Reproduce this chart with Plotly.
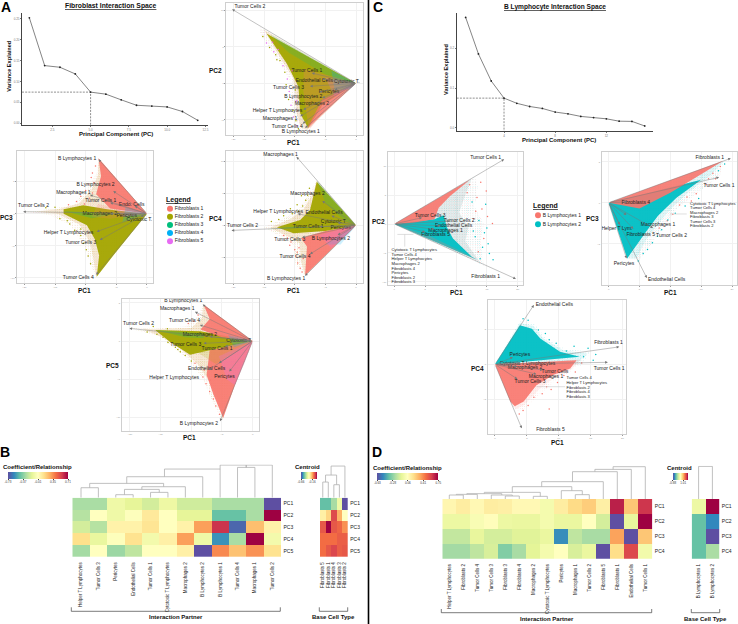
import plotly.graph_objects as go

FONT = "Liberation Sans"
FIB = {"F1": "#F8766D", "F2": "#A3A500", "F3": "#00BF7D", "F4": "#00B0F6", "F5": "#E76BF3"}
BL = {"B1": "#F8766D", "B2": "#00BFC4"}

# ---------- scree data ----------
A_PC = [1, 2, 3, 4, 5, 6, 7, 8, 9, 10, 11, 12]
A_VAR = [0.2524, 0.138, 0.134, 0.118, 0.0745, 0.0696, 0.056, 0.043, 0.041, 0.039, 0.028, 0.007]
C_PC = [1, 2, 3, 4, 5, 6, 7, 8, 9, 10, 11, 12, 13, 14, 15]
C_VAR = [0.278, 0.186, 0.118, 0.075, 0.062, 0.054, 0.049, 0.040, 0.0355, 0.029, 0.026, 0.023, 0.017, 0.0165, 0.005]

# ---------- biplot loadings (arrow tips) and label spots ----------
A2_NAMES = ["Tumor Cells 2", "Tumor Cells 1", "Endothelial Cells", "Cytotoxic T.", "Tumor Cells 3", "Pericytes",
            "B Lymphocytes 2", "Macrophages 2", "Helper T Lymphocytes", "Macrophages 1", "Tumor Cells 4", "B Lymphocytes 1"]
A2_TIP_X = [-20.2, -7.2, -5.5, -1, -7.5, -3.5, -6, -5.5, -8.6, -9.1, -8.7, -8.3]
A2_TIP_Y = [10.1, 1.4, 0.6, 0.1, -0.4, -0.9, -1.2, -2, -3.6, -4.5, -5.5, -6.1]
A2_LAB_X = [-17.3, -8.0, -6.8, -1.5, -11.0, -4.4, -8.6, -7.2, -12.8, -12.4, -11.2, -9]
A2_LAB_Y = [10.45, 1.7, 0.3, 0.2, -0.6, -1.2, -1.8, -2.8, -3.8, -4.9, -5.9, -6.6]

A3_NAMES = ["B Lymphocytes 1", "B Lymphocytes 2", "Macrophages 1", "Tumor Cells 1", "Endo. Cells", "Tumor Cells 2",
            "Macrophages 2", "Pericytes", "Cytotoxic T.", "Helper T Lymphocytes", "Tumor Cells 3", "Tumor Cells 4"]
A3_TIP_X = [-7.9, -5.5, -9.3, -6, -2, -20.2, -6, -2.5, -1, -8.2, -7.7, -8.3]
A3_TIP_Y = [8.45, 3.5, 2.9, 1.7, 1.2, 0.3, 0, -0.3, -0.5, -2.8, -4.1, -9.5]
A3_LAB_X = [-11.4, -8.4, -12, -7.55, -2.5, -18.5, -7.7, -3.3, -1.25, -12.8, -10.8, -11.2]
A3_LAB_Y = [8.6, 4.45, 3.3, 2.0, 1.35, 1.2, 0.05, -0.35, -1, -3.0, -4.45, -9.95]

A4_NAMES = ["Macrophages 1", "Macrophages 2", "Helper T Lymphocytes", "Endothelial Cells", "Cytotoxic T", "Tumor Cells 2",
            "Tumor Cells 1", "Pericytes", "Tumor Cells 3", "B Lymphocytes 2", "Tumor Cells 4", "B Lymphocytes 1"]
A4_TIP_X = [-9.7, -5.5, -9.5, -4, -3, -20.3, -6, -2, -8.8, -3, -7.5, -8.3]
A4_TIP_Y = [10.7, 3.8, 1.8, 1.5, 0.4, -0.8, -0.2, -0.3, -1.9, -1.5, -4.5, -7.9]
A4_LAB_X = [-12.3, -7.9, -12.7, -5.2, -3.7, -18.5, -7.8, -2.5, -10.8, -4.1, -9.95, -11.4]
A4_LAB_Y = [11.0, 4.85, 2.1, 1.9, 0.6, -0.1, -0.3, -0.35, -2.25, -2.1, -4.95, -8.3]

A5_NAMES = ["B Lymphocytes 1", "Macrophages 1", "Tumor Cells 4", "Tumor Cells 2", "Macrophages 2", "Cytotoxic T.",
            "Tumor Cells 3", "Tumor Cells 1", "Endothelial Cells", "Helper T Lymphocytes", "Pericytes", "B Lymphocytes 2"]
A5_TIP_X = [-8.15, -9.4, -8.6, -20.1, -7, -1.5, -8, -4.5, -5.5, -7.2, -3.8, -5.3]
A5_TIP_Y = [4.8, 3.84, 2.1, 1.66, 0.6, 0.1, -0.3, -0.7, -2.9, -3.8, -4.0, -10.5]
A5_LAB_X = [-11.3, -12.3, -11.1, -18.6, -8.6, -2.2, -10.9, -5.8, -7.5, -12.8, -4.6, -8.75]
A5_LAB_Y = [5.24, 4.2, 2.6, 2.3, 0.87, 0.1, -0.44, -0.96, -3.67, -4.76, -4.7, -10.87]

C2_NAMES = ["Tumor Cells 1", "Tumor Cells 3", "Tumor Cells 2", "Endothelial Cells", "Macrophages 1", "Fibroblasts 5", "Fibroblasts 1"]
C2_TIP_X = [17.8, 4.5, 9, 7.5, 6.5, 5, 19.7]
C2_TIP_Y = [11.2, 1.1, 0.5, -0.3, -0.9, -1.4, -9.5]
C2_LAB_X = [14.8, 5.8, 10.5, 9.6, 8.3, 6.7, 14.8]
C2_LAB_Y = [11.5, 1.4, 0.63, -0.35, -1.15, -1.84, -9.2]
C2_LIST = ["Cytotoxic T Lymphocytes", "Tumor Cells 4", "Helper T Lymphocytes", "Macrophages 2", "Fibroblasts 4", "Pericytes", "Fibroblasts 2", "Fibroblasts 3"]
C2_LIST_X = [-0.45] * 8
C2_LIST_Y = [-4.55, -5.3, -6.1, -6.9, -7.7, -8.45, -9.3, -10.0]

C3_NAMES = ["Fibroblasts 1", "Tumor Cells 1", "Fibroblasts 4", "Macrophages 1", "Tumor Cells 2", "Fibroblasts 5", "Helper T Lym.", "Pericytes", "Endothelial Cells"]
C3_TIP_X = [19.8, 17.9, 3, 2.9, 7.2, 4, 1.8, 2.9, 6.2]
C3_TIP_Y = [5.4, 3.09, 0.1, -1.5, -3.1, -3.2, -2.7, -6.8, -9.2]
C3_LAB_X = [16.4, 17.9, 4.4, 8, 10.2, 5.2, 1.35, 2.5, 9.4]
C3_LAB_Y = [5.5, 2.07, 0, -2.7, -4, -3.9, -3.2, -7.4, -9.35]
C3_LIST = ["Cytotoxic T Lymphocytes", "Tumor Cells 4", "Macrophages 2", "Fibroblasts 3", "Tumor Cells 3", "Fibroblasts 2"]
C3_LIST_X = [13.2] * 6
C3_LIST_Y = [-0.12, -0.65, -1.22, -1.79, -2.36, -2.9]

C4_NAMES = ["Endothelial Cells", "Fibroblasts 1", "Tumor Cells 1", "Pericytes", "Cytotoxic T Lymphocytes", "Macrophages 2", "Tumor Cells", "Macrophages 1", "Tumor Cells 3", "Fibroblasts 5"]
C4_TIP_X = [6.1, 19.5, 17.7, 2.8, 4, 3.5, 7.5, 6.5, 3.5, 4.2]
C4_TIP_Y = [8.5, 2.5, 0.29, 1, 0.1, -0.3, -0.8, -1.4, -2.1, -9.15]
C4_LAB_X = [9.3, 17.8, 17.9, 3.9, 5.1, 4.7, 9.4, 8, 5.5, 8.7]
C4_LAB_Y = [8.5, 3.1, -0.67, 1.3, 0.14, -0.43, -1, -1.76, -2.5, -9.3]
C4_LIST = ["Tumor Cells 4", "Helper T Lymphocytes", "Fibroblasts 2", "Fibroblasts 4", "Fibroblasts 3"]
C4_LIST_X = [11.2] * 5
C4_LIST_Y = [-2.0, -2.7, -3.4, -4.0, -4.7]

# ---------- point-cloud outlines ----------
A2_FR_X = [0, -15.7, -15.65, -12.4, -10.8, -10.65, -9.95, -8.9]
A2_FR_Y = [0, 7.7, 6.8, 2.7, 0.45, -2.3, -4.5, -6.6]
A2_MID_X = [0, -15, -12.3, -10.3, -9.9, -9.7, -9, -8]
A2_MID_Y = [0, 7.3, 3.4, 0.8, -1.5, -4, -6, -6.4]
A2_F2_X = [0, -14.6, -11.3, -9.4, -9.1, -7.8, -5.5, 0]
A2_F2_Y = [0, 6.8, 2.7, -0.45, -4.1, -6.1, -3, 0]
A2_F3_X = [0, -14, -11, -5, 0]
A2_F3_Y = [0, 6.7, 4.2, 1.2, 0]
A2_F1_X = [0, -8.5, -8.6, -7.8, -7.5, -5, -1, 0]
A2_F1_Y = [0, 2, -1, -5.7, -6.2, -3.6, -0.5, 0]
A2_F1B_X = [0, -8, -5.5, 0]
A2_F1B_Y = [0, -6.2, -2.2, 0]
A2_F4_X = [0, -4, -3.5, -1, 0]
A2_F4_Y = [0, 1.7, -0.9, -0.8, 0]
A2_F5_X = [0, -5, -3.5, 0]
A2_F5_Y = [0, 0.8, -1.8, 0]
A2_SP1_X = [-15.2, -14.1, -13.1, -12.4, -11.6, -11.4, -11, -10.3, -9.8, -9.4, -9.9, -12.9]
A2_SP1_Y = [6.4, 4.9, 3.9, 3.1, 1.5, -0.2, -2.2, -3.7, -5.1, -6.2, -0.9, 3.2]
A2_SP2_X = [-14.6, -13.6, -12.7, -11.9, -11.2, -10.9, -10.6, -10.2, -9.6, -10.4, -9.7, -13.4]
A2_SP2_Y = [5.5, 5.6, 4.6, 2.4, 0.6, -1.1, -3, -4.6, -5.8, 1.7, -2.4, 4.3]

A3_FR_X = [0, -7.9, -8.2, -9.8, -12, -15.8, -19.9, -15.8, -12.55, -10.1, -9.3, -8.3]
A3_FR_Y = [0, 8.6, 6.3, 3.7, 1.35, 0.67, 0.3, -0.2, -1.76, -5.1, -7.7, -9.8]
A3_MID_X = [0, -7.9, -8, -9, -11, -14.5, -18, -14.5, -11, -9.3, -8.7, -8.3]
A3_MID_Y = [0, 8.6, 6, 3.8, 1.6, 0.7, 0.35, -0.05, -1.7, -4.5, -7.2, -9.8]
A3_F1_X = [0, -7.9, -7.5, -8.3, -6, 0]
A3_F1_Y = [0, 8.6, 5.8, 3, 0.8, 0]
A3_F2_X = [0, -6, -10.4, -13.6, -13.6, -9.8, -8.5, -7.8, -8.2, -5.5, 0]
A3_F2_Y = [0, 0.6, 1.3, 0.7, 0, -1.8, -4, -6.5, -9.8, -6.5, 0]
A3_F3_X = [-5, -13.6, -9, -5]
A3_F3_Y = [0, 0.4, -0.7, 0]
A3_F1B_X = [0, -8, -9, -6, 0]
A3_F1B_Y = [0, 1.5, -0.5, -0.8, 0]
A3_F4_X = [0, -3.5, -4, 0]
A3_F4_Y = [0, 1.0, -1.3, 0]
A3_F5_X = [0, -5, -4, 0]
A3_F5_Y = [0, 0.6, -0.5, 0]
A3_SP1_X = [-8.4, -9.1, -10, -10.8, -9.6, -11.5, -12.8, -8.9, -9.4, -8.6, -8.9, -10.2]
A3_SP1_Y = [7.4, 5.6, 3.6, 2.7, 4.6, 1.9, 1.4, 6.3, 2.4, 4.8, 3.2, 1.5]
A3_SP2_X = [-15, -16.5, -14.2, -12.6, -11.8, -10.8, -10.4, -9.9, -9.6, -9.2, -10.8, -13]
A3_SP2_Y = [1, 0.9, -0.8, -1.6, -2.6, -3.4, -4.6, -5.6, -6.6, -7.8, -2.4, -1.1]

A4_FR_X = [0, -6.4, -7.3, -9.2, -11.5, -15, -11.5, -10, -9.9, -8.3]
A4_FR_Y = [0, 7.1, 5.5, 2.7, 1.2, -0.3, -2.2, -3.4, -6, -7.9]
A4_MID_X = [0, -6.4, -7, -8.5, -10.5, -14, -11, -9.2, -9, -8.3]
A4_MID_Y = [0, 7, 5, 2.6, 1.1, -0.4, -1.8, -2.8, -5.5, -7.9]
A4_F2_X = [0, -6.4, -7.5, -9.1, -12.9, -10.2, -5, 0]
A4_F2_Y = [0, 6.8, 2.4, 0.83, -0.3, -1.25, -0.9, 0]
A4_F3_X = [0, -6.4, -5, -2, 0]
A4_F3_Y = [0, 7, 3.5, 0.8, 0]
A4_F3B_X = [-6, -14.6, -10, -6]
A4_F3B_Y = [-0.3, -0.6, -0.2, -0.3]
A4_F1_X = [0, -5, -9, -8, -8.3, 0]
A4_F1_Y = [0, -0.9, -2, -3.3, -7.8, 0]
A4_F4_X = [0, -5, -2.5, 0]
A4_F4_Y = [0, -3, -3, 0]
A4_F5_X = [0, -6, -4, 0]
A4_F5_Y = [0, -1.5, -3.6, 0]
A4_SP1_X = [-7.6, -8.2, -9.6, -10.4, -11.8, -12.6, -8.9, -7.9, -9.4, -10.7, -8.7, -13.8]
A4_SP1_Y = [5.8, 3.9, 3.2, 1.8, 1.5, 0.9, 4.6, 4.7, 2.2, 2.6, 3, 0.6]
A4_SP2_X = [-11.8, -10.6, -10, -9.8, -9.5, -9.1, -8.8, -10.8, -9.3, -11.2, -8.6, -9.6]
A4_SP2_Y = [-1.6, -2.6, -3.8, -4.8, -5.9, -6.7, -7.3, -3.1, -3.5, -2, -5.2, -4.2]

A5_FR_X = [0, -8, -9, -11, -15.9, -20, -15, -13.5, -10.5, -8.2, -6.8, -5, -2.9, -1.25]
A5_FR_Y = [0, 4.8, 3.2, 1.9, 1.6, 1.66, 0.6, -0.5, -2.4, -4.8, -7.5, -10.4, -5.8, -2.7]
A5_MID_X = [0, -8, -8.3, -10, -15.9, -18, -14.5, -11.5, -9, -7.3, -5.7, -4.9, -2.9, -1.25]
A5_MID_Y = [0, 4.8, 3, 1.7, 1.55, 1.6, 0.4, -1.2, -3, -5, -7.5, -10.2, -5.8, -2.7]
A5_F1_X = [0, -8, -7, -8.5, -5, 0]
A5_F1_Y = [0, 4.8, 2.9, 1.5, 0.5, 0]
A5_F2_X = [0, -8.5, -15.9, -13.5, -10.2, -7, 0]
A5_F2_Y = [0, 1.3, 1.44, -0.1, -1.8, -1.2, 0]
A5_F3_X = [-8, -15.9, -11, -8]
A5_F3_Y = [1, 1.44, 0.5, 0.4]
A5_F1B_X = [0, -7, -7.5, -6.4, -4.8, -2.9, 0]
A5_F1B_Y = [0, -1.2, -4.45, -7, -10.1, -5.8, 0]
A5_F5_X = [0, -5.5, -4.2, -2.9, -1.25, 0]
A5_F5_Y = [0, -2, -5, -5.8, -2.7, 0]
A5_F2B_X = [0, -9, -6, -3, 0]
A5_F2B_Y = [0, -1.5, -3, -1.5, 0]
A5_F4_X = [0, -4, -3, 0]
A5_F4_Y = [0, 0.8, -0.8, 0]
A5_SP1_X = [-8.9, -9.6, -10.5, -8.1, -7.6, -7, -6.4, -6, -5.4, -9.4, -7.9, -6.9]
A5_SP1_Y = [3.4, 2.6, 2.3, -4.7, -5.6, -6.6, -7.6, -8.5, -9.6, -2.9, -3.8, -5.1]
A5_SP2_X = [-17.2, -15.6, -14.6, -13.8, -12.6, -11.8, -11, -10, -13.9, -16.2, -11.4, -12.2]
A5_SP2_Y = [1.2, 0.9, 0.5, -0.2, -0.8, -1.4, -1.9, -2.6, 1.6, 1.9, -0.6, -1.1]

C2_FR_X = [0, 13, 13.5, 13, 14.5, 14, 14.5]
C2_FR_Y = [0, 8.2, 6.5, 3, 0, -3, -7.2]
C2_MID_X = [0, 12.5, 11.5, 10.5, 12, 11.5, 13.8]
C2_MID_Y = [0, 7.8, 5, 2, -0.5, -3, -6.5]
C2_B1_X = [0, 12.3, 9, 7.2, 6.5, 3, 0]
C2_B1_Y = [0, 7.7, 4.8, 2.8, 0.8, 0.2, 0]
C2_B2_X = [0, 6.5, 8, 8.5, 9.5, 12.5, 13.4, 0]
C2_B2_Y = [0, 0.8, 1.5, -0.5, -2.5, -5.6, -6.2, 0]
C2_B1B_X = [0, 13.4, 11.5, 6, 0]
C2_B1B_Y = [0, -6.2, -5.1, -2.2, 0]
C2_SP1_X = [11.8, 13.4, 14.2, 15.9, 12.9, 14.5, 12.2, 13.2, 14.9, 13.6, 15.1, 14]
C2_SP1_Y = [5.4, 4.6, 2.6, 0.1, 0.9, -2.5, 6.8, 2.2, 5.7, -4.8, 1.3, 7.2]
C2_SP2_X = [12.6, 13.7, 14.6, 15.2, 13.1, 14.3, 15.4, 16, 13.9, 12.8, 15, 14.8]
C2_SP2_Y = [3.8, 0.6, -1.5, -3.4, -2.2, -4, -5.1, -6.2, -6, -1.2, -0.7, 3.4]

C3_FR_X = [0, 18.6, 18, 14, 11, 9, 7, 5, 3]
C3_FR_Y = [0, 5, 3.2, 1, -0.8, -2.8, -5, -7, -6.8]
C3_MID_X = [0, 18.6, 16.5, 13, 10, 8, 6, 4.5, 3]
C3_MID_Y = [0, 5, 3.3, 1.3, -0.8, -2.6, -4.6, -6.8, -6.8]
C3_B1_X = [0, 18.6, 14, 10, 5, 0]
C3_B1_Y = [0, 5.1, 3.0, 1.2, -0.7, 0]
C3_B2_X = [0, 15, 11, 8, 6, 4, 3, 0]
C3_B2_Y = [0, 2.8, 0.6, -1.6, -3.6, -5.8, -6.8, 0]
C3_SP1_X = [16.9, 18.1, 15.8, 12.7, 11.5, 10.4, 14.2, 17.3, 9.5, 8.2, 13.4, 16.2]
C3_SP1_Y = [3.6, 4.4, 2.2, 0.7, -0.3, -1.4, 1.1, 2.9, -2.2, -3.1, 0.2, 2.9]
C3_SP2_X = [14.6, 12.4, 10.8, 9.6, 8.6, 7.9, 7.1, 6.3, 5.6, 4.8, 17.8, 18.8]
C3_SP2_Y = [0.5, -0.4, -1.3, -2.1, -3.3, -4.1, -4.9, -5.7, -6.2, -7.1, 3.9, 4.7]

C4_FR2_X = [0, 3.9, 6.1, 8, 11, 15, 13.5]
C4_FR2_Y = [0, 6.2, 5.9, 3.7, 2.2, 1.8, -0.2]
C4_FR1_X = [0, 14, 12, 9.5, 7.5, 4.8, 3.5, 2.7]
C4_FR1_Y = [0, 0.8, -1, -2.3, -4, -6.2, -6.8, -6]
C4_MID2_X = [0, 3.9, 6, 7.6, 10.7, 14.5, 13]
C4_MID2_Y = [0, 5.9, 5.5, 3.7, 2, 1.5, 0.3]
C4_MID1_X = [0, 13.5, 11.9, 9.3, 7, 4.6, 3.3, 2.6]
C4_MID1_Y = [0, 0.7, -0.8, -1.9, -3.5, -5.8, -6.4, -5.7]
C4_B2_X = [0, 3.9, 5.8, 7.1, 10.2, 13.3, 0]
C4_B2_Y = [0, 5.6, 5.1, 3.7, 1.8, 1.1, 0]
C4_B1_X = [0, 12.8, 11.8, 9.2, 6.5, 4.5, 3.1, 2.4, 0]
C4_B1_Y = [0, 0.6, -0.6, -1.5, -3, -5.3, -6, -5.3, 0]
C4_SP1_X = [13.6, 12.6, 10.8, 9.8, 8.1, 7.4, 6.1, 5.2, 4.4, 3.8, 8.8, 8.5]
C4_SP1_Y = [0.2, -1.1, -1.6, -2.6, -3.2, -4.2, -4.7, -5.9, -6.6, -7.1, -3.6, -6.4]
C4_SP2_X = [14.6, 15.8, 12.4, 11.2, 9.6, 8.5, 7.9, 6.8, 5.2, 4.4, 13.9, 15.4]
C4_SP2_Y = [2.3, 1.4, 2.6, 1.9, 3, 3.5, 4.4, 4.9, 6.3, 6.5, 1.1, 0.6]

# ---------- heatmaps ----------
PC5_ROWS = ["PC1", "PC2", "PC3", "PC4", "PC5"]
PC4_ROWS = ["PC1", "PC2", "PC3", "PC4"]
B_COLS = ["Helper T Lymphocytes", "Tumor Cells 3", "Pericytes", "Endothelial Cells", "Tumor Cells 1", "Cytotoxic T Lymphocytes",
          "Macrophages 2", "B Lymphocytes 2", "B Lymphocytes 1", "Tumor Cells 4", "Macrophages 1", "Tumor Cells 2"]
B_Z = [[-.30, -.30, -.10, -.15, -.20, -.11, -.21, -.21, -.30, -.30, -.30, -.73],
       [-.27, -.01, -.10, -.02, .09, -.01, -.15, -.15, -.44, -.44, -.30, .71],
       [-.20, -.27, .05, .05, .11, -.01, .05, .31, .59, -.67, .23, .05],
       [.13, -.13, -.02, .12, -.08, .06, .31, -.10, -.56, -.30, .71, -.08],
       [-.31, -.01, -.33, -.25, -.01, -.01, .06, -.73, .36, .22, .34, .12]]
B_TICKS = [-0.73, -0.37, -0.01, 0.35, 0.71]
BC_COLS = ["Fibroblasts 5", "Fibroblasts 1", "Fibroblasts 4", "Fibroblasts 3", "Fibroblasts 2"]
BC_Z = [[-.52, -.52, -.45, -.35, -.66],
        [-.27, -.22, -.04, -.17, -.305],
        [-.06, .05, -.06, -.08, -.13],
        [-.09, -.09, -.09, -.07, -.07],
        [-.09, -.06, -.035, -.07, -.06]]
BC_TICKS = [-0.66, -0.16]

D_COLS = ["Helper T Lymphocytes", "Fibroblasts 2", "Tumor Cells 4", "Tumor Cells 3", "Fibroblasts 3", "Fibroblasts 4", "Macrophages 2",
          "Cytotoxic T Lymphocytes", "Pericytes", "Macrophages 1", "Tumor Cells 2", "Fibroblasts 5", "Fibroblasts 1", "Endothelial Cells", "Tumor Cells 1"]
D_Z = [[.10, .14, .09, .14, .13, .09, .09, .00, .14, .21, .25, .13, .68, .27, .63],
       [-.04, -.04, .02, .07, -.04, -.05, -.05, .00, -.05, -.05, .06, -.12, -.63, -.06, .75],
       [-.16, -.16, -.06, -.12, -.12, -.09, -.09, -.05, -.48, -.17, -.22, -.22, .36, -.63, .27],
       [-.23, -.23, -.17, -.11, -.30, -.22, -.08, .00, .06, -.11, -.05, -.63, .20, .58, -.01]]
D_TICKS = [-0.63, -0.28, 0.06, 0.41, 0.75]
DC_COLS = ["B Lymphocytes 1", "B Lymphocytes 2"]
DC_Z = [[.28, 1.82], [-.34, -.61], [-.34, -.88], [-.34, -.07]]
DC_TICKS = [-0.88, 1.01]

# dendrogram merges: left leaf, right leaf, merge height, left foot, right foot
B_DEND = [(0, 1, 30, 0, 0), (2, 3, 9, 0, 0), (4, 5, 16, 0, 0), (2.5, 4.5, 25, 9, 16), (3.5, 6, 33, 25, 0),
          (.5, 4.75, 43, 30, 33), (2.63, 7, 63, 43, 0), (4.8, 8, 86, 63, 0), (9, 10, 91, 0, 0), (8, 11, 98, 86, 0), (9.5, 9.5, 98, 91, 91)]
BC_DEND = [(0, 1, 47, 0, 0), (2, 3, 39, 0, 0), (.5, 2.5, 68, 47, 39), (1.5, 4, 95, 68, 0)]
D_DEND = [(0, 1, 12, 0, 0), (.5, 2, 14, 12, 0), (4, 5, 9, 0, 0), (3, 4.5, 12, 0, 9), (1.25, 3.75, 16, 14, 12), (6, 7, 8, 0, 0),
          (2.5, 6.5, 20, 16, 8), (9, 10, 13, 0, 0), (8, 9.5, 25, 0, 13), (4.5, 8.75, 37, 20, 25), (6.6, 11, 52, 37, 0),
          (8.8, 12, 82, 52, 0), (10.4, 13, 89, 82, 0), (11.7, 14, 97, 89, 0)]
DC_DEND = [(0, 1, 98, 0, 0)]

SPECTRAL_R = [[0, "#5e4fa2"], [.1, "#3288bd"], [.2, "#66c2a5"], [.3, "#abdda4"], [.4, "#e6f598"], [.5, "#ffffbf"],
              [.6, "#fee08b"], [.7, "#fdae61"], [.8, "#f46d43"], [.9, "#d53e4f"], [1, "#9e0142"]]

W, H = 738, 624
fig = go.Figure()
layout = {}
n_axes = [0]
annos = []
shapes = []


def rgba(h, a):
    return f"rgba({int(h[1:3],16)},{int(h[3:5],16)},{int(h[5:7],16)},{a})"


def new_axes(box, xr, yr, xkw=None, ykw=None):
    n_axes[0] += 1
    n = n_axes[0]
    l, t, r, b = box
    base = dict(showgrid=False, zeroline=False, showticklabels=False, ticks="", automargin=False)
    xa = dict(base, domain=[l / W, r / W], range=xr, anchor=f"y{n}")
    ya = dict(base, domain=[1 - b / H, 1 - t / H], range=yr, anchor=f"x{n}")
    xa.update(xkw or {})
    ya.update(ykw or {})
    layout[f"xaxis{n}"] = xa
    layout[f"yaxis{n}"] = ya
    return f"x{n}", f"y{n}"


def page_text(px, py, text, size=5, bold=False, color="#111", angle=0, underline=False):
    if underline:
        text = f"<u>{text}</u>"
    if bold:
        text = f"<b>{text}</b>"
    annos.append(dict(x=px / W, y=1 - py / H, xref="paper", yref="paper", text=text, showarrow=False,
                      xanchor="center", yanchor="middle", textangle=angle,
                      font=dict(family=FONT, size=size, color=color)))


def page_path(pts, color="#444", width=0.7):
    d = "M" + " L".join(f"{x/W},{1-y/H}" for x, y in pts)
    shapes.append(dict(type="path", xref="paper", yref="paper", path=d, line=dict(color=color, width=width)))


def scree(box, xr, yr, xs, ys, xt, xtl, yt, ytl, cut):
    xa, ya = new_axes(box, xr, yr,
                      dict(showline=True, linecolor="#444", linewidth=0.8, ticks="outside", ticklen=1, tickwidth=0.4, tickcolor="#777",
                           tickvals=xt, ticktext=xtl, showticklabels=True, tickfont=dict(size=3, color="#777", family=FONT)),
                      dict(showline=True, linecolor="#444", linewidth=0.8, ticks="outside", ticklen=1, tickwidth=0.4, tickcolor="#777",
                           tickvals=yt, ticktext=ytl, showticklabels=True, tickfont=dict(size=3, color="#777", family=FONT)))
    fig.add_trace(go.Scatter(x=[xr[0], xs[cut], xs[cut]], y=[ys[cut], ys[cut], yr[0]], mode="lines", xaxis=xa, yaxis=ya,
                             line=dict(color="#444", width=0.6, dash="2px,1.2px"), hoverinfo="skip"))
    fig.add_trace(go.Scatter(x=xs, y=ys, mode="lines+markers", xaxis=xa, yaxis=ya, line=dict(color="#777", width=0.9),
                             marker=dict(color="#222", size=1.8), hoverinfo="skip"))


def biplot(box, xr, yr, xt, yt, layers, specks, names, tx, ty, lx, ly, extra_lines=None, lst=None, lstx=None, lsty=None):
    grid = dict(showgrid=True, gridcolor="#f1f1f1", gridwidth=0.4, ticks="outside", ticklen=0.6, tickwidth=0.4, tickcolor="#999",
                showticklabels=True, tickfont=dict(size=2.5, color="#999", family=FONT), showline=True, mirror=True,
                linecolor="#cfcfcf", linewidth=1)
    xa, ya = new_axes(box, xr, yr, dict(grid, tickvals=xt), dict(grid, tickvals=yt))
    for col, xs, ys, alpha, pat in layers:
        kw = {}
        if pat:
            kw["fillpattern"] = dict(shape=".", size=pat[0], solidity=pat[1], fgcolor=col, bgcolor="rgba(255,255,255,0)")
            kw["fillcolor"] = "rgba(255,255,255,0)"
        else:
            kw["fillcolor"] = rgba(col, alpha)
        fig.add_trace(go.Scatter(x=xs, y=ys, mode="lines", fill="toself", line=dict(width=0), xaxis=xa, yaxis=ya, hoverinfo="skip", **kw))
    for col, xs, ys in specks:
        fig.add_trace(go.Scatter(x=xs, y=ys, mode="markers", marker=dict(color=col, size=1.5), xaxis=xa, yaxis=ya, hoverinfo="skip"))
    for sx, sy in (extra_lines or []):
        fig.add_trace(go.Scatter(x=sx, y=sy, mode="lines", line=dict(color="#c8c8c8", width=0.6), xaxis=xa, yaxis=ya, hoverinfo="skip"))
    for x, y in zip(tx, ty):
        annos.append(dict(x=x, y=y, ax=0, ay=0, xref=xa, yref=ya, axref=xa, ayref=ya, text="", showarrow=True, arrowhead=2,
                          arrowsize=1.2, arrowwidth=0.45, arrowcolor="#777"))
    fig.add_trace(go.Scatter(x=lx, y=ly, text=names, mode="text", textposition="middle center", xaxis=xa, yaxis=ya, cliponaxis=False,
                             textfont=dict(family=FONT, size=5, color="#222"), hoverinfo="skip"))
    if lst:
        fig.add_trace(go.Scatter(x=lstx, y=lsty, text=lst, mode="text", textposition="middle right", xaxis=xa, yaxis=ya, cliponaxis=False,
                                 textfont=dict(family=FONT, size=4.1, color="#222"), hoverinfo="skip"))


def heat(box, z, cols, rows, zr, ticks, cb_box):
    n = len(cols)
    xa, ya = new_axes(box, [-0.5, n - 0.5], [len(rows) - 0.5, -0.5],
                      dict(type="category", showticklabels=True, tickangle=-90, ticklen=2.5, ticks="outside", tickcolor="rgba(0,0,0,0)",
                           tickfont=dict(family=FONT, size=4.5, color="#222")),
                      dict(type="category", side="right", showticklabels=True, ticklen=0.5, ticks="outside", tickcolor="rgba(0,0,0,0)",
                           tickfont=dict(family=FONT, size=5, color="#222")))
    l, t, r, b = cb_box
    fig.add_trace(go.Heatmap(z=z, x=cols, y=rows, zmin=zr[0], zmax=zr[1], colorscale=SPECTRAL_R, xaxis=xa, yaxis=ya, hoverinfo="skip",
                             xgap=0, ygap=0,
                             colorbar=dict(orientation="h", lenmode="pixels", len=r - l, thickness=b - t, x=l / W, y=1 - t / H,
                                           xanchor="left", yanchor="top", xpad=0, ypad=0, outlinewidth=0, tickvals=ticks,
                                           ticktext=[f"{v:.2f}" for v in ticks], ticks="outside", ticklen=1, tickwidth=0.3, tickcolor="#444",
                                           tickfont=dict(family=FONT, size=3, color="#333"))))


def dendro(box, n, merges):
    xa, ya = new_axes(box, [-0.5, n - 0.5], [0, 100])
    xs, ys = [], []
    for x0, x1, top, b0, b1 in merges:
        xs += [x0, x0, x1, x1, None]
        ys += [b0, top, top, b1, None]
    fig.add_trace(go.Scatter(x=xs, y=ys, mode="lines", xaxis=xa, yaxis=ya, line=dict(color="#b0b0b0", width=0.8), hoverinfo="skip", cliponaxis=False))


def legend_block(box, yr, names, cols):
    xa, ya = new_axes(box, [0, 1], yr)
    fig.add_trace(go.Scatter(x=[0.1] * len(names), y=list(range(len(names))), text=names, mode="markers+text", textposition="middle right",
                             marker=dict(size=6, color=cols), xaxis=xa, yaxis=ya, cliponaxis=False,
                             textfont=dict(family=FONT, size=5, color="#222"), hoverinfo="skip"))


# ---------- scree panels ----------
scree((22, 13, 208, 125.3), [0.52, 12.67], [-0.005, 0.264], A_PC, A_VAR, [2.5, 5, 7.5, 10, 12.5], ["2.5", "5.0", "7.5", "10.0", "12.5"],
      [0, .05, .1, .15, .2, .25], ["0.00", "0.05", "0.10", "0.15", "0.20", "0.25"], 4)
scree((456.7, 13, 653.3, 131.3), [0.3, 15.67], [-0.0084, 0.289], C_PC, C_VAR, [4, 8, 12], ["4", "8", "12"],
      [0, .1, .2], ["0.0", "0.1", "0.2"], 3)

# stipple settings: (dot grid in px, ink share)
SPARSE, SPARSE2, MID, MID2, MIX, MIX2 = (2.6, 0.07), (2.2, 0.07), (1.5, 0.3), (1.7, 0.22), (1.5, 0.55), (1.7, 0.4)

# ---------- fibroblast biplots ----------
F1, F2, F3, F4, F5 = FIB["F1"], FIB["F2"], FIB["F3"], FIB["F4"], FIB["F5"]
XT_A = [-20, -15, -10, -5, 0]
biplot((226, 2.7, 362.7, 135), [-21.2, 1.09], [-7.05, 11.0], XT_A, [10, 5, 0, -5],
       [(F2, A2_FR_X, A2_FR_Y, 0, SPARSE), (F5, A2_FR_X, A2_FR_Y, 0, SPARSE2), (F2, A2_MID_X, A2_MID_Y, 0, MID), (F1, A2_MID_X, A2_MID_Y, 0, MID2),
        (F2, A2_F2_X, A2_F2_Y, 0.95, None), (F3, A2_F3_X, A2_F3_Y, 0, MIX2), (F1, A2_F1_X, A2_F1_Y, 0, MIX),
        (F1, A2_F1B_X, A2_F1B_Y, 0.75, None), (F4, A2_F4_X, A2_F4_Y, 0, MIX), (F5, A2_F5_X, A2_F5_Y, 0, MIX)],
       [(F2, A2_SP1_X, A2_SP1_Y), (F5, A2_SP2_X, A2_SP2_Y)],
       A2_NAMES, A2_TIP_X, A2_TIP_Y, A2_LAB_X, A2_LAB_Y)
biplot((16.7, 151.3, 153.3, 283.3), [-21.25, 1.03], [-10.83, 9.69], XT_A, [5, 0, -5, -10],
       [(F1, A3_FR_X, A3_FR_Y, 0, SPARSE), (F2, A3_FR_X, A3_FR_Y, 0, SPARSE2), (F2, A3_MID_X, A3_MID_Y, 0, MID), (F1, A3_MID_X, A3_MID_Y, 0, MID2),
        (F2, A3_F2_X, A3_F2_Y, 0.95, None), (F1, A3_F1_X, A3_F1_Y, 0.9, None), (F3, A3_F3_X, A3_F3_Y, 0, MIX),
        (F1, A3_F1B_X, A3_F1B_Y, 0, MIX2), (F4, A3_F4_X, A3_F4_Y, 0, MIX), (F5, A3_F5_X, A3_F5_Y, 0, MIX)],
       [(F1, A3_SP1_X, A3_SP1_Y), (F2, A3_SP2_X, A3_SP2_Y)],
       A3_NAMES, A3_TIP_X, A3_TIP_Y, A3_LAB_X, A3_LAB_Y)
biplot((226, 151.3, 362.7, 283.3), [-21.2, 1.09], [-9.06, 11.56], XT_A, [10, 5, 0, -5],
       [(F1, A4_FR_X, A4_FR_Y, 0, SPARSE), (F2, A4_FR_X, A4_FR_Y, 0, SPARSE2), (F2, A4_MID_X, A4_MID_Y, 0, MID), (F1, A4_MID_X, A4_MID_Y, 0, MID2),
        (F1, A4_F1_X, A4_F1_Y, 0.9, None), (F2, A4_F2_X, A4_F2_Y, 0.95, None), (F3, A4_F3_X, A4_F3_Y, 0, MIX2),
        (F3, A4_F3B_X, A4_F3B_Y, 0, MIX), (F4, A4_F4_X, A4_F4_Y, 0, MIX2), (F5, A4_F5_X, A4_F5_Y, 0, MIX)],
       [(F2, A4_SP1_X, A4_SP1_Y), (F1, A4_SP2_X, A4_SP2_Y)],
       A4_NAMES, A4_TIP_X, A4_TIP_Y, A4_LAB_X, A4_LAB_Y)
biplot((122.3, 298.7, 259.3, 430.7), [-21.25, 1.09], [-11.75, 5.55], XT_A, [5, 0, -5, -10],
       [(F1, A5_FR_X, A5_FR_Y, 0, SPARSE), (F2, A5_FR_X, A5_FR_Y, 0, SPARSE2), (F2, A5_MID_X, A5_MID_Y, 0, MID), (F1, A5_MID_X, A5_MID_Y, 0, MID2),
        (F1, A5_F1B_X, A5_F1B_Y, 0.9, None), (F2, A5_F2_X, A5_F2_Y, 0.95, None), (F1, A5_F1_X, A5_F1_Y, 0.9, None),
        (F3, A5_F3_X, A5_F3_Y, 0, MIX), (F2, A5_F2B_X, A5_F2B_Y, 0, MIX2), (F5, A5_F5_X, A5_F5_Y, 0, MIX),
        (F4, A5_F4_X, A5_F4_Y, 0, MIX)],
       [(F1, A5_SP1_X, A5_SP1_Y), (F2, A5_SP2_X, A5_SP2_Y)],
       A5_NAMES, A5_TIP_X, A5_TIP_Y, A5_LAB_X, A5_LAB_Y)

# ---------- B lymphocyte biplots ----------
B1, B2 = BL["B1"], BL["B2"]
XT_C = [0, 5, 10, 15, 20]
biplot((388.3, 152.3, 522.7, 285), [-0.97, 20.8], [-10.55, 12.4], XT_C, [10, 5, 0, -5, -10],
       [(B1, C2_FR_X, C2_FR_Y, 0, SPARSE), (B2, C2_FR_X, C2_FR_Y, 0, SPARSE2), (B2, C2_MID_X, C2_MID_Y, 0, MID), (B1, C2_MID_X, C2_MID_Y, 0, MID2),
        (B2, C2_B2_X, C2_B2_Y, 0.95, None), (B1, C2_B1_X, C2_B1_Y, 0.9, None), (B1, C2_B1B_X, C2_B1B_Y, 0, MIX)],
       [(B1, C2_SP1_X, C2_SP1_Y), (B2, C2_SP2_X, C2_SP2_Y)],
       C2_NAMES, C2_TIP_X, C2_TIP_Y, C2_LAB_X, C2_LAB_Y,
       extra_lines=[([0.5, 3.1], [-1.8, -1.8]), ([1.7, 1.7], [-1.8, -3.9])], lst=C2_LIST, lstx=C2_LIST_X, lsty=C2_LIST_Y)
biplot((602.3, 152.3, 736.7, 285), [-1.03, 20.76], [-10.04, 6.14], XT_C, [5, 0, -5],
       [(B1, C3_FR_X, C3_FR_Y, 0, SPARSE), (B2, C3_FR_X, C3_FR_Y, 0, SPARSE2), (B2, C3_MID_X, C3_MID_Y, 0, MID),
        (B2, C3_B2_X, C3_B2_Y, 0.95, None), (B1, C3_B1_X, C3_B1_Y, 0.9, None)],
       [(B1, C3_SP1_X, C3_SP1_Y), (B2, C3_SP2_X, C3_SP2_Y)],
       C3_NAMES, C3_TIP_X, C3_TIP_Y, C3_LAB_X, C3_LAB_Y,
       extra_lines=[([9.95, 12.65], [-1.38, -1.38])], lst=C3_LIST, lstx=C3_LIST_X, lsty=C3_LIST_Y)
biplot((488.3, 299.7, 625.7, 434.3), [-1.05, 20.5], [-10, 9.24], XT_C, [5, 0, -5],
       [(B2, C4_FR2_X, C4_FR2_Y, 0, SPARSE), (B1, C4_FR1_X, C4_FR1_Y, 0, SPARSE2), (B2, C4_MID2_X, C4_MID2_Y, 0, MID), (B1, C4_MID1_X, C4_MID1_Y, 0, MID),
        (B2, C4_B2_X, C4_B2_Y, 0.95, None), (B1, C4_B1_X, C4_B1_Y, 0.9, None)],
       [(B1, C4_SP1_X, C4_SP1_Y), (B2, C4_SP2_X, C4_SP2_Y)],
       C4_NAMES, C4_TIP_X, C4_TIP_Y, C4_LAB_X, C4_LAB_Y,
       extra_lines=[([6.5, 11], [-3.2, -3.2])], lst=C4_LIST, lstx=C4_LIST_X, lsty=C4_LIST_Y)

# ---------- legends ----------
legend_block((165, 204, 215, 246), [4.6, -0.58], ["Fibroblasts 1", "Fibroblasts 2", "Fibroblasts 3", "Fibroblasts 4", "Fibroblasts 5"], [F1, F2, F3, F4, F5])
legend_block((533, 211, 583, 229), [1.52, -0.48], ["B Lymphocytes 1", "B Lymphocytes 2"], [B1, B2])
page_text(178, 199.7, "Legend", 7, True, underline=True)
page_text(545.7, 206, "Legend", 7, True, underline=True)

# ---------- heatmaps + dendrograms ----------
heat((72.3, 497.7, 281, 557), B_Z, B_COLS, PC5_ROWS, (-0.73, 0.71), B_TICKS, (8, 472.3, 68, 479.3))
heat((320, 497.7, 347.7, 557), BC_Z, BC_COLS, PC5_ROWS, (-0.66, 0.05), BC_TICKS, (301, 472.3, 316.7, 479.3))
heat((442.3, 499, 652.3, 558.7), D_Z, D_COLS, PC4_ROWS, (-0.63, 0.75), D_TICKS, (377.3, 473, 438.3, 480))
heat((691.7, 499, 719.3, 558.7), DC_Z, DC_COLS, PC4_ROWS, (-0.88, 1.82), DC_TICKS, (672.7, 473, 688, 480))
dendro((72.3, 464.4, 281, 497.7), 12, B_DEND)
dendro((320, 464.4, 347.7, 497.7), 5, BC_DEND)
dendro((442.3, 465.7, 652.3, 499), 15, D_DEND)
dendro((691.7, 465.7, 719.3, 499), 2, DC_DEND)

for p in [((71.3, 607.3), (71.3, 611.3), (280.3, 611.3), (280.3, 607.3)),
          ((319.3, 607.3), (319.3, 611.3), (347.7, 611.3), (347.7, 607.3)),
          ((441.3, 609), (441.3, 612.7), (651.7, 612.7), (651.7, 609)),
          ((691.3, 609), (691.3, 612.7), (719.7, 612.7), (719.7, 609))]:
    page_path(p)
page_path(((368.5, 0), (368.5, 624)), "#000", 1.6)

# ---------- page text ----------
page_text(6, 7.5, "A", 14, True, "#000")
page_text(5.3, 451.7, "B", 14, True, "#000")
page_text(378, 7.5, "C", 14, True, "#000")
page_text(377.3, 451.7, "D", 14, True, "#000")
page_text(111, 6.5, "Fibroblast Interaction Space", 6.8, True, underline=True)
page_text(555, 6.7, "B Lymphocyte Interaction Space", 6.6, True, underline=True)
page_text(116, 134.3, "Principal Component (PC)", 6, True)
page_text(9, 65.7, "Variance Explained", 5.6, True, angle=-90)
page_text(559, 140.3, "Principal Component (PC)", 6, True)
page_text(445.3, 68.7, "Variance Explained", 5.6, True, angle=-90)
for px, py, t in [(215.7, 70.7, "PC2"), (293, 142.4, "PC1"), (6.7, 217.7, "PC3"), (84, 290.8, "PC1"), (215.7, 218.3, "PC4"), (293, 290.8, "PC1"),
                  (112.7, 365, "PC5"), (189.7, 437.6, "PC1"), (378.3, 221, "PC2"), (456, 292.8, "PC1"), (592, 219, "PC3"), (670, 292.8, "PC1"),
                  (477.7, 368, "PC4"), (557.7, 442, "PC1")]:
    page_text(px, py, t, 6.5, True)
page_text(37.7, 467.3, "Coefficient/Relationship", 6, True)
page_text(307.7, 467, "Centroid", 6, True)
page_text(407.7, 468, "Coefficient/Relationship", 6, True)
page_text(679.3, 468, "Centroid", 6, True)
page_text(176.3, 617.3, "Interaction Partner", 6, True)
page_text(333.3, 617.3, "Base Cell Type", 6, True)
page_text(547.3, 619.3, "Interaction Partner", 6, True)
page_text(705.3, 619.3, "Base Cell Type", 6, True)

fig.update_layout(width=W, height=H, margin=dict(l=0, r=0, t=0, b=0, autoexpand=False), paper_bgcolor="white", plot_bgcolor="white",
                  showlegend=False, font=dict(family=FONT), annotations=annos, shapes=shapes, **layout)
fig.write_html("out.html", config={"displayModeBar": False}, post_script="document.body.style.margin='0';")
